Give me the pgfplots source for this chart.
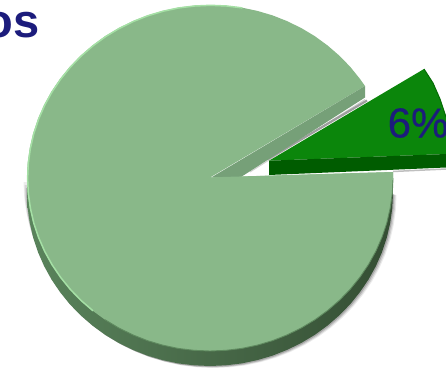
\documentclass[border=0pt]{standalone}
\usepackage{fontspec}
\setmainfont{Liberation Sans}
\newfontfamily\labelfont[FakeBold=0.4]{Liberation Sans}
\usepackage{pgfplots}
\usepackage{pgfplotstable}
\pgfplotsset{compat=1.18}

\definecolor{faceLight}{HTML}{89B889}
\definecolor{faceRim}{HTML}{A5E0A5}
\definecolor{faceEdge}{HTML}{5F8A5F}
\definecolor{cutWall}{HTML}{76A078}
\definecolor{sideLeft}{HTML}{5A845C}
\definecolor{sideMid}{HTML}{395539}
\definecolor{sideDark}{HTML}{344D33}
\definecolor{sliceGreen}{HTML}{0B860B}
\definecolor{sliceEdge}{HTML}{056B05}
\definecolor{sliceWall}{HTML}{005C00}
\definecolor{navyText}{HTML}{1C1C7C}

% Large slice (94%): top face outline in pixel coordinates
\pgfplotstableread{
x y
210.0 177.5
393.0 172.0
393.0 178.0
392.3 193.1
390.2 208.0
386.8 222.8
382.0 237.2
375.9 251.1
368.5 264.5
359.9 277.2
350.2 289.2
339.4 300.3
327.6 310.5
315.0 319.7
301.5 327.8
287.3 334.8
272.6 340.6
257.4 345.1
241.8 348.4
226.0 350.3
210.0 351.0
194.0 350.3
178.2 348.4
162.6 345.1
147.4 340.6
132.7 334.8
118.5 327.8
105.0 319.7
92.4 310.5
80.6 300.3
69.8 289.2
60.1 277.2
51.5 264.5
44.1 251.1
38.0 237.2
33.2 222.8
29.8 208.0
27.7 193.1
27.0 178.0
27.7 162.9
29.8 148.0
33.2 133.2
38.0 118.8
44.1 104.9
51.5 91.5
60.1 78.8
69.8 66.8
80.6 55.7
92.4 45.5
105.0 36.3
118.5 28.2
132.7 21.2
147.4 15.4
162.6 10.9
178.2 7.6
194.0 5.7
210.0 5.0
226.0 5.7
241.8 7.6
257.4 10.9
272.6 15.4
287.3 21.2
301.5 28.2
315.0 36.3
327.6 45.5
339.4 55.7
350.2 66.8
359.9 78.8
365.0 86.0
}\mainface

% Lower half of the rim, extruded for the side wall and its shadow
\pgfplotstableread{
x y
393.0 178.0
392.3 193.1
390.2 208.0
386.8 222.8
382.0 237.2
375.9 251.1
368.5 264.5
359.9 277.2
350.2 289.2
339.4 300.3
327.6 310.5
315.0 319.7
301.5 327.8
287.3 334.8
272.6 340.6
257.4 345.1
241.8 348.4
226.0 350.3
210.0 351.0
194.0 350.3
178.2 348.4
162.6 345.1
147.4 340.6
132.7 334.8
118.5 327.8
105.0 319.7
92.4 310.5
80.6 300.3
69.8 289.2
60.1 277.2
51.5 264.5
44.1 251.1
38.0 237.2
33.2 222.8
29.8 208.0
27.7 193.1
27.0 178.0
}\lowerrim

% Left part of the rim, which catches the light
\pgfplotstableread{
x y
92.4 310.5
80.6 300.3
69.8 289.2
60.1 277.2
51.5 264.5
44.1 251.1
38.0 237.2
33.2 222.8
29.8 208.0
27.7 193.1
27.0 178.0
27.7 162.9
29.8 148.0
33.2 133.2
38.0 118.8
44.1 104.9
51.5 91.5
60.1 78.8
69.8 66.8
80.6 55.7
92.4 45.5
105.0 36.3
118.5 28.2
132.7 21.2
147.4 15.4
162.6 10.9
178.2 7.6
194.0 5.7
210.0 5.0
226.0 5.7
241.8 7.6
}\upperrim

\begin{document}
\begin{tikzpicture}
\useasboundingbox (0,0) rectangle (446pt,367pt);
\clip (0,0) rectangle (446pt,367pt);
\begin{axis}[
  at={(0,0)}, anchor=south west,
  scale only axis, width=446pt, height=367pt,
  xmin=0, xmax=446, ymin=0, ymax=367, y dir=reverse,
  hide axis, clip=true,
]
% soft shadow under the pie, right and left of the side wall
\addplot[fill=black, fill opacity=0.08, draw=none] table[x expr=\thisrow{x}+3.5, y expr=\thisrow{y}+17] {\lowerrim} --cycle;
\addplot[fill=black, fill opacity=0.12, draw=none] table[x expr=\thisrow{x}+2.5, y expr=\thisrow{y}+16.5] {\lowerrim} --cycle;
\addplot[fill=black, fill opacity=0.18, draw=none] table[x expr=\thisrow{x}+1.2, y expr=\thisrow{y}+16] {\lowerrim} --cycle;
\addplot[fill=black, fill opacity=0.07, draw=none] table[x expr=\thisrow{x}-3.5, y expr=\thisrow{y}+4] {\lowerrim} --cycle;
\addplot[fill=black, fill opacity=0.10, draw=none] table[x expr=\thisrow{x}-2.5, y expr=\thisrow{y}+7] {\lowerrim} --cycle;
\addplot[fill=black, fill opacity=0.16, draw=none] table[x expr=\thisrow{x}-1.2, y expr=\thisrow{y}+10] {\lowerrim} --cycle;
% side wall, lighter towards the left
\addplot[left color=sideLeft, middle color=sideMid, right color=sideDark, draw=none] table[y expr=\thisrow{y}+15] {\lowerrim} --cycle;
\addplot[fill=sideDark, draw=none] coordinates {(393,178) (393,193) (391,193) (391,178)} --cycle;
\addplot[fill=sideLeft, draw=none] coordinates {(27,178) (27,193) (29,193) (29,178)} --cycle;
% top face of the large slice
\addplot[fill=faceLight, draw=none] table {\mainface} --cycle;
\addplot[faceEdge, line width=0.9pt, restrict x to domain=100:400] table {\lowerrim};
\addplot[faceRim, line width=1.5pt] table[x expr=\thisrow{x}+0.6, y expr=\thisrow{y}+0.3] {\upperrim};
% shadow in the gap between the two slices
\addplot[black!18, line width=1pt] coordinates {(250,172) (365,99.5)};
\addplot[black!38, line width=2.2pt] coordinates {(268,159) (367,100.5)};
% cut wall of the large slice
\addplot[fill=cutWall, draw=none] coordinates {(212,177) (365,86) (365,97.5) (241,177)} --cycle;
\addplot[fill=faceLight, draw=none] coordinates {(205,177.5) (393,172) (393,180) (205,182)} --cycle;
% detached small slice (6%)
\addplot[black!25, line width=1.5pt] coordinates {(393,171.5) (446,169)};
\addplot[fill=sliceGreen, draw=none] coordinates {(269,160.7) (424,69) (433,83) (440,99) (446,117) (446,154)} --cycle;
\addplot[sliceEdge, line width=1pt] coordinates {(424,69) (433,83) (440,99) (446,117)};
\addplot[fill=sliceWall, draw=none] coordinates {(269,160.7) (446,154) (446,167.5) (269,175)} --cycle;
% labels
\node[anchor=base west, text=navyText, inner sep=0pt] at (axis cs:387.5,137.5) {\fontsize{42}{42}\labelfont 6\%};
\node[anchor=base east, text=navyText, inner sep=0pt] at (axis cs:39.5,37.5) {\fontsize{47}{47}\selectfont\bfseries os};
\end{axis}
\end{tikzpicture}
\end{document}
